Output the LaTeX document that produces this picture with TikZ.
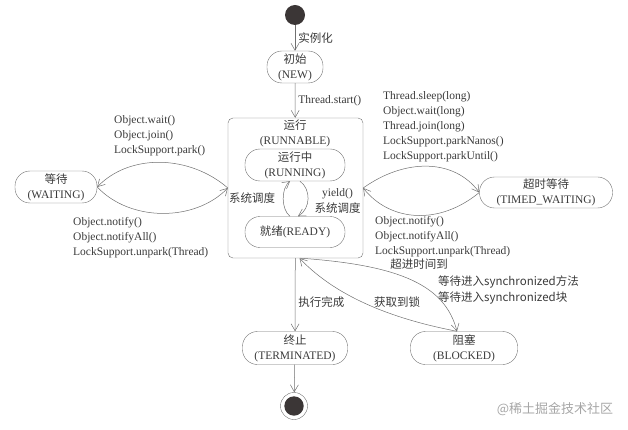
\documentclass[tikz,border=0pt]{standalone}
\usepackage{fontspec}
\setmainfont{Liberation Serif}
\newfontfamily\cjk{Noto Sans CJK SC}
\usetikzlibrary{arrows.meta}
\definecolor{linegray}{HTML}{707070}
\definecolor{textgray}{HTML}{3A3A3A}
\definecolor{dotgray}{HTML}{3B3636}
\begin{document}
\begin{tikzpicture}[x=1pt,y=-1pt,
  state/.style={draw=linegray, rounded corners=15pt, minimum height=32pt, align=center, inner sep=0pt, text=textgray, font=\fontsize{11.5}{15}\selectfont},
  lbl/.style={text=textgray, inner sep=3pt, font=\fontsize{11.5}{15}\selectfont},
  calls/.style={lbl, align=left, anchor=west, inner sep=0pt},
  trans/.style={draw=linegray, line width=0.5pt, -{Straight Barb[length=7pt,width=8pt]}}]
\useasboundingbox (0,0) rectangle (628,430);
% states
\node [circle, fill=dotgray, minimum size=20pt, inner sep=0pt] (start) at (295,15) {};
\node [state, minimum width=56pt] (new) at (295,67) {{\cjk 初始}\\(NEW)};
\node [draw=linegray, rounded corners=5pt, minimum width=135pt, minimum height=140pt] (runnable) at (295.5,188) {};
\node [lbl, align=center, inner sep=0pt] (runtitle) at (295,133.5) {{\cjk 运行}\\(RUNNABLE)};
\node [state, minimum width=100pt] (running) at (295,165) {{\cjk 运行中}\\(RUNNING)};
\node [state, minimum width=100pt, minimum height=31pt] (ready) at (295,232) {{\cjk 就绪}(READY)};
\node [state, minimum width=82pt] (waiting) at (56,187) {{\cjk 等待}\\(WAITING)};
\node [state, minimum width=133pt, minimum height=31pt] (timed) at (546,192.5) {{\cjk 超时等待}\\(TIMED\_WAITING)};
\node [state, minimum width=105pt, minimum height=33pt] (term) at (295,348) {{\cjk 终止}\\(TERMINATED)};
\node [state, minimum width=107pt, minimum height=33pt] (blocked) at (464,348) {{\cjk 阻塞}\\(BLOCKED)};
\node [circle, draw=linegray, minimum size=27pt, inner sep=0pt] (final) at (294,406) {};
\fill [dotgray] (final.center) circle (9.7pt);
% transitions
\draw [trans] (start) -- node [lbl, right] {\cjk 实例化} (new);
\draw [trans] (new) -- node [lbl, right] {Thread.start()} (runnable);
\draw [trans] (runnable) -- node [lbl, right, pos=0.6] {\cjk 执行完成} (term);
\draw [trans] (term) -- (final);
\draw [trans] (runnable.west) .. controls +(-38,-33) and +(33,-34) .. (waiting.east);
\draw [trans] (waiting.east) .. controls +(33,35) and +(-33,34) .. (runnable.west);
\draw [trans] (runnable.east) .. controls +(42,-30) and +(-25,-34) .. (timed.west);
\draw [trans] (timed.west) .. controls +(-40,33) and +(27,34) .. (runnable.east);
\draw [trans] ([xshift=-5pt]ready.north) .. controls +(-9,-7) and +(-9,7) .. ([xshift=-5pt]running.south);
\draw [trans] ([xshift=5pt]running.south) .. controls +(11,8) and +(13,-8) .. ([xshift=3pt]ready.north);
\draw [trans] ([xshift=5pt]runnable.south) .. controls +(100,7) and +(-12,-46) .. ([xshift=-7pt]blocked.north);
\draw [trans] ([xshift=-7pt]blocked.north) .. controls +(-57,-11) and +(40,42) .. ([xshift=4pt]runnable.south);
% labels
\node [calls] (waitin) at (114,136) {Object.wait()\\Object.join()\\LockSupport.park()};
\node [calls] (waitout) at (73,237.5) {Object.notify()\\Object.notifyAll()\\LockSupport.unpark(Thread)};
\node [calls] (timedin) at (383,127) {Thread.sleep(long)\\Object.wait(long)\\Thread.join(long)\\LockSupport.parkNanos()\\LockSupport.parkUntil()};
\node [calls] (timedout) at (375,237) {Object.notify()\\Object.notifyAll()\\LockSupport.unpark(Thread)};
\node [lbl, font=\cjk\fontsize{11.5}{15}\selectfont] (schedl) at (252,198) {系统调度};
\node [lbl, align=center, inner sep=0pt] (yield) at (337.5,201) {yield()\\[1pt]{\cjk 系统调度}};
\node [lbl, font=\cjk\fontsize{11.5}{15}\selectfont] (timeout) at (419,264) {超进时间到};
\node [calls, font=\cjk\fontsize{11.5}{15}\selectfont] (syncin) at (438,290) {等待进入synchronized方法\\[1pt]等待进入synchronized块};
\node [lbl, font=\cjk\fontsize{11.5}{15}\selectfont] (lockgot) at (397,302) {获取到锁};
\node [text=gray!70, font=\cjk\fontsize{13}{15}\selectfont] (mark) at (555,409) {@稀土掘金技术社区};
\end{tikzpicture}
\end{document}
